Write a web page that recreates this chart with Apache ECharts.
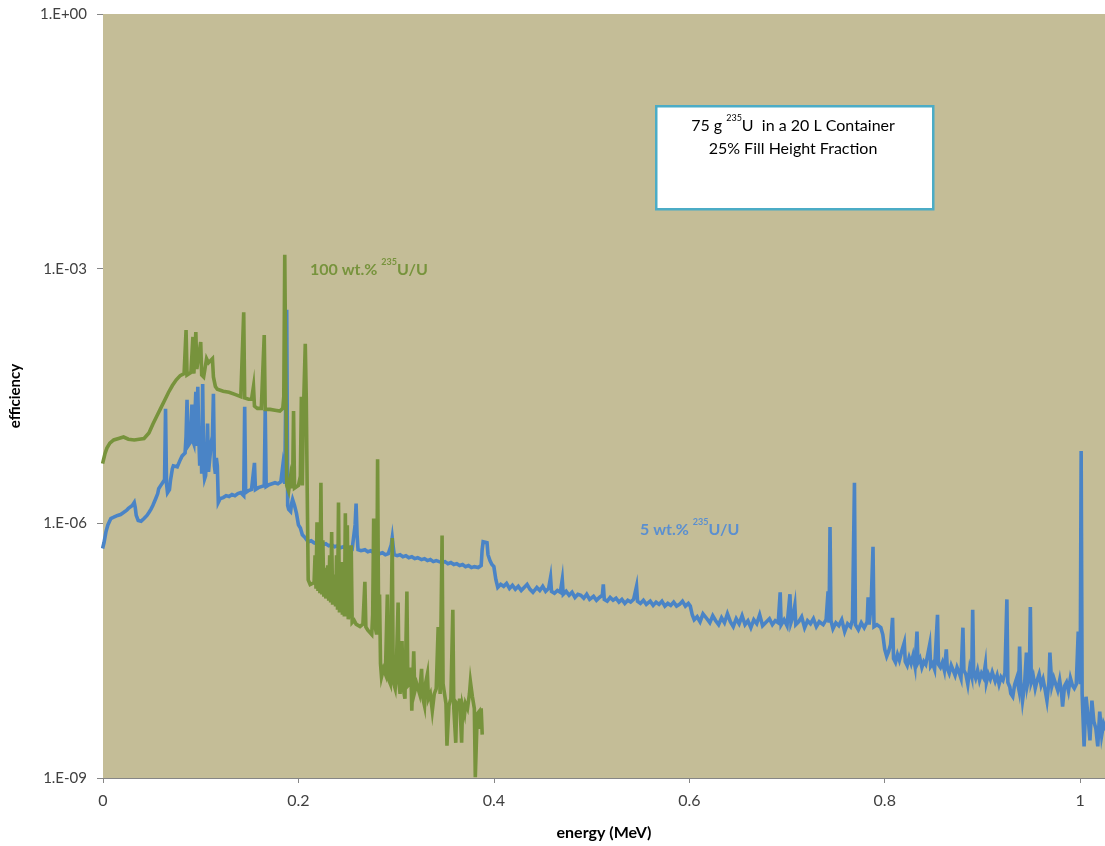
<!DOCTYPE html>
<html>
<head>
<meta charset="utf-8">
<script src="https://cdn.jsdelivr.net/npm/echarts@6/dist/echarts.min.js"></script>
<style>
  html, body { margin: 0; padding: 0; background: #ffffff; }
  #chart { width: 1105px; height: 846px; }
</style>
</head>
<body>
<div id="chart"></div>
<script>
// Detection efficiency vs. gamma energy, 75 g U-235 in a 20 L container

// 100 wt.% 235U/U : energy (MeV)
const greenEnergy = [
  0.000,0.002,0.004,0.007,0.011,0.016,0.021,0.026,0.032,0.037,
  0.042,0.047,0.051,0.055,0.059,0.063,0.067,0.071,0.075,0.079,
  0.083,0.085,0.086,0.090,0.092,0.093,0.095,0.096,0.098,0.100,
  0.101,0.103,0.106,0.108,0.110,0.112,0.113,0.115,0.117,0.123,
  0.129,0.135,0.141,0.143,0.144,0.145,0.149,0.152,0.154,0.155,
  0.158,0.162,0.165,0.166,0.171,0.176,0.181,0.184,0.185,0.186,
  0.188,0.190,0.192,0.194,0.195,0.196,0.198,0.200,0.202,0.203,
  0.204,0.205,0.207,0.208,0.209,0.210,0.212,0.214,0.216,0.217,
  0.218,0.219,0.220,0.221,0.222,0.223,0.224,0.225,0.226,0.227,
  0.228,0.230,0.231,0.232,0.233,0.234,0.235,0.237,0.238,0.239,
  0.240,0.241,0.242,0.244,0.245,0.246,0.247,0.248,0.249,0.250,
  0.251,0.253,0.254,0.255,0.257,0.259,0.261,0.263,0.266,0.268,
  0.269,0.271,0.273,0.275,0.276,0.277,0.278,0.280,0.281,0.282,
  0.283,0.284,0.285,0.287,0.289,0.291,0.292,0.294,0.296,0.297,
  0.299,0.300,0.302,0.303,0.304,0.306,0.307,0.309,0.311,0.312,
  0.314,0.315,0.316,0.318,0.319,0.321,0.324,0.326,0.327,0.329,
  0.330,0.332,0.333,0.335,0.337,0.339,0.341,0.343,0.345,0.347,
  0.348,0.349,0.351,0.352,0.354,0.356,0.358,0.359,0.361,0.362,
  0.364,0.365,0.367,0.368,0.370,0.371,0.373,0.375,0.376,0.378,
  0.380,0.381,0.383,0.385,0.386,0.387,0.388
];
// 100 wt.% 235U/U : efficiency
const greenEff = [
  5.3e-6,6.6e-6,7.7e-6,8.8e-6,9.6e-6,1.0e-5,1.04e-5,9.8e-6,9.6e-6,9.8e-6,
  1.0e-5,1.16e-5,1.47e-5,1.83e-5,2.26e-5,2.8e-5,3.48e-5,4.2e-5,4.9e-5,5.5e-5,
  5.8e-5,1.89e-4,5.6e-5,6.0e-5,1.57e-4,5.8e-5,1.79e-4,6.6e-5,6.3e-5,1.37e-4,
  5.6e-5,5.3e-5,8.7e-5,7.8e-5,7.4e-5,8.7e-5,5.3e-5,4.1e-5,3.8e-5,3.6e-5,
  3.5e-5,3.3e-5,3.1e-5,3.05e-5,3.07e-4,3.0e-5,2.9e-5,2.9e-5,4.1e-5,2.4e-5,
  2.26e-5,2.26e-5,1.65e-4,2.2e-5,2.2e-5,2.15e-5,2.1e-5,2.26e-5,3.1e-5,1.46e-3,
  2.8e-6,2.4e-6,3.6e-6,2.6e-6,2.1e-5,2.6e-6,2.5e-6,2.8e-6,3.6e-6,3.1e-5,
  2.8e-6,1.83e-5,1.3e-4,3.1e-5,2.3e-6,2.16e-7,1.9e-7,1.8e-7,2.0e-7,4.2e-7,
  1.7e-7,1.03e-6,1.6e-7,4.2e-7,1.5e-7,3.0e-6,1.45e-7,6.3e-7,1.37e-7,3.0e-7,
  1.3e-7,3.2e-7,1.23e-7,4.2e-7,1.17e-7,7.9e-7,1.1e-7,2.5e-7,1.05e-7,4.2e-7,
  9.6e-8,1.76e-6,8.9e-8,3.5e-7,8.4e-8,1.45e-7,8.0e-8,1.31e-6,8.0e-8,9.5e-7,
  7.4e-8,1.1e-7,5.5e-7,6.8e-8,7.2e-8,6.5e-8,6.8e-8,6.1e-8,6.5e-8,2.05e-7,
  6.0e-8,5.5e-8,5.8e-8,4.9e-8,8.4e-8,1.14e-6,6.5e-8,4.9e-8,5.7e-6,8.4e-8,
  1.45e-7,2.2e-8,1.55e-8,1.93e-8,1.68e-8,1.45e-7,1.47e-8,1.29e-8,6.7e-7,1.36e-8,
  1.13e-8,1.68e-8,1.17e-7,1.29e-8,9.8e-9,4.1e-8,1.19e-8,8.6e-9,1.57e-7,1.22e-8,
  1.29e-8,2.0e-8,6.2e-9,3.1e-8,1.04e-8,1.29e-8,9.8e-9,1.93e-8,9.1e-9,7.1e-9,
  1.29e-8,1.68e-8,8.6e-9,9.8e-9,6.2e-9,9.8e-9,1.13e-8,6.0e-8,9.8e-9,7.2e-7,
  1.29e-8,1.07e-8,7.5e-9,2.4e-9,7.1e-9,8.6e-9,9.6e-8,6.6e-9,2.6e-9,7.5e-9,
  6.9e-9,8.6e-9,2.6e-9,7.1e-9,5.7e-9,7.5e-9,6.6e-9,9.8e-9,1.36e-8,9.1e-9,
  6.6e-9,1.02e-9,5.7e-9,6.1e-9,3.8e-9,6.6e-9,3.4e-9
];

// 5 wt.% 235U/U : energy (MeV)
const blueEnergy = [
  0.000,0.001,0.003,0.005,0.008,0.011,0.015,0.018,0.021,0.024,
  0.026,0.030,0.032,0.033,0.034,0.036,0.037,0.039,0.042,0.045,
  0.047,0.049,0.051,0.054,0.056,0.057,0.059,0.061,0.063,0.064,
  0.065,0.066,0.068,0.069,0.071,0.072,0.074,0.076,0.077,0.079,
  0.081,0.083,0.084,0.085,0.086,0.087,0.089,0.090,0.091,0.092,
  0.093,0.094,0.095,0.096,0.097,0.098,0.099,0.100,0.101,0.102,
  0.103,0.104,0.105,0.106,0.107,0.108,0.110,0.111,0.112,0.113,
  0.114,0.115,0.116,0.117,0.118,0.120,0.123,0.126,0.129,0.132,
  0.135,0.138,0.141,0.143,0.144,0.145,0.146,0.149,0.152,0.154,
  0.155,0.156,0.159,0.162,0.165,0.166,0.167,0.170,0.173,0.176,
  0.179,0.182,0.184,0.185,0.186,0.188,0.189,0.190,0.192,0.193,
  0.194,0.196,0.198,0.200,0.202,0.204,0.207,0.210,0.213,0.216,
  0.219,0.222,0.225,0.228,0.231,0.234,0.237,0.240,0.243,0.246,
  0.249,0.252,0.255,0.257,0.258,0.259,0.260,0.261,0.264,0.268,
  0.271,0.274,0.277,0.280,0.283,0.286,0.289,0.292,0.294,0.295,
  0.296,0.297,0.298,0.301,0.304,0.307,0.310,0.313,0.316,0.319,
  0.322,0.326,0.329,0.332,0.335,0.338,0.341,0.344,0.347,0.350,
  0.353,0.356,0.359,0.362,0.365,0.368,0.371,0.374,0.377,0.380,
  0.384,0.387,0.388,0.389,0.391,0.393,0.394,0.396,0.398,0.400,
  0.402,0.404,0.407,0.410,0.413,0.416,0.419,0.422,0.425,0.428,
  0.431,0.434,0.437,0.440,0.444,0.447,0.450,0.453,0.456,0.458,
  0.459,0.462,0.465,0.468,0.470,0.471,0.474,0.477,0.480,0.483,
  0.486,0.489,0.492,0.495,0.498,0.502,0.505,0.508,0.511,0.512,
  0.513,0.516,0.519,0.522,0.525,0.528,0.531,0.534,0.537,0.540,
  0.543,0.546,0.547,0.550,0.553,0.556,0.560,0.563,0.566,0.569,
  0.572,0.575,0.578,0.581,0.584,0.587,0.590,0.593,0.596,0.599,
  0.601,0.603,0.605,0.608,0.611,0.614,0.618,0.621,0.624,0.627,
  0.630,0.633,0.636,0.639,0.642,0.645,0.648,0.651,0.654,0.657,
  0.660,0.663,0.666,0.669,0.672,0.675,0.679,0.682,0.685,0.688,
  0.691,0.693,0.694,0.697,0.700,0.703,0.704,0.706,0.708,0.709,
  0.712,0.715,0.718,0.721,0.724,0.727,0.730,0.733,0.737,0.740,
  0.742,0.743,0.744,0.745,0.747,0.750,0.753,0.756,0.759,0.762,
  0.765,0.767,0.769,0.770,0.773,0.776,0.779,0.782,0.783,0.784,
  0.786,0.788,0.789,0.792,0.796,0.798,0.800,0.802,0.804,0.806,
  0.808,0.809,0.811,0.813,0.815,0.817,0.820,0.821,0.823,0.825,
  0.827,0.829,0.831,0.833,0.834,0.836,0.838,0.840,0.842,0.844,
  0.846,0.847,0.849,0.851,0.854,0.855,0.857,0.859,0.861,0.863,
  0.864,0.866,0.868,0.870,0.872,0.874,0.876,0.878,0.880,0.881,
  0.883,0.885,0.887,0.889,0.890,0.891,0.893,0.895,0.897,0.899,
  0.901,0.903,0.904,0.906,0.908,0.910,0.913,0.915,0.917,0.919,
  0.921,0.923,0.925,0.926,0.928,0.929,0.931,0.933,0.935,0.937,
  0.938,0.939,0.941,0.943,0.945,0.946,0.948,0.949,0.950,0.952,
  0.954,0.956,0.958,0.960,0.962,0.964,0.966,0.968,0.969,0.971,
  0.973,0.975,0.977,0.979,0.981,0.982,0.984,0.986,0.988,0.990,
  0.992,0.994,0.996,0.998,1.000,1.001,1.002,1.004,1.006,1.008,
  1.010,1.012,1.014,1.016,1.018,1.020,1.022,1.024,1.026
];
// 5 wt.% 235U/U : efficiency
const blueEff = [
  5.30e-7,5.90e-7,7.93e-7,9.58e-7,1.14e-6,1.18e-6,1.24e-6,1.27e-6,1.34e-6,1.42e-6,
  1.50e-6,1.62e-6,1.76e-6,1.54e-6,1.24e-6,1.08e-6,1.03e-6,1.06e-6,1.14e-6,1.24e-6,
  1.34e-6,1.46e-6,1.62e-6,1.96e-6,2.24e-6,2.56e-6,2.78e-6,3.01e-6,3.27e-6,2.24e-5,
  2.93e-6,2.30e-6,2.50e-6,3.18e-6,4.39e-6,4.76e-6,5.02e-6,4.63e-6,4.76e-6,5.59e-6,
  6.23e-6,6.57e-6,6.75e-6,1.06e-5,2.85e-5,8.15e-6,8.83e-6,1.38e-5,2.50e-5,9.32e-6,
  8.60e-6,1.81e-5,3.54e-5,8.15e-6,4.05e-5,1.06e-5,4.76e-6,1.38e-5,3.84e-6,4.39e-5,
  4.76e-6,3.35e-6,3.64e-6,6.23e-6,1.50e-5,4.05e-6,3.94e-6,9.32e-6,1.06e-5,3.35e-5,
  4.76e-6,3.84e-6,5.90e-6,4.76e-6,1.76e-6,1.96e-6,2.01e-6,2.12e-6,2.07e-6,2.18e-6,
  2.12e-6,2.24e-6,2.30e-6,2.36e-6,2.12e-6,2.36e-5,2.30e-6,2.43e-6,2.50e-6,2.56e-6,
  5.16e-6,2.50e-6,2.63e-6,2.71e-6,2.78e-6,2.18e-5,2.71e-6,2.85e-6,2.93e-6,3.01e-6,
  2.93e-6,3.09e-6,4.76e-6,3.84e-6,2.93e-6,3.27e-4,1.62e-6,1.46e-6,1.38e-6,1.71e-6,
  1.91e-6,1.62e-6,1.31e-6,9.58e-7,8.83e-7,7.32e-7,6.75e-7,6.06e-7,6.23e-7,5.90e-7,
  5.74e-7,6.06e-7,5.59e-7,5.74e-7,5.44e-7,5.59e-7,5.30e-7,5.44e-7,5.16e-7,5.30e-7,
  5.02e-7,5.16e-7,5.02e-7,5.16e-7,9.58e-7,1.71e-6,7.32e-7,4.89e-7,4.76e-7,4.89e-7,
  4.63e-7,4.76e-7,4.51e-7,4.63e-7,4.39e-7,4.51e-7,4.27e-7,4.39e-7,4.51e-7,5.59e-7,
  6.75e-7,5.30e-7,4.27e-7,4.16e-7,4.27e-7,4.05e-7,4.16e-7,3.94e-7,4.05e-7,3.84e-7,
  3.94e-7,3.74e-7,3.84e-7,3.64e-7,3.74e-7,3.54e-7,3.64e-7,3.54e-7,3.45e-7,3.54e-7,
  3.35e-7,3.45e-7,3.27e-7,3.35e-7,3.18e-7,3.27e-7,3.09e-7,3.18e-7,3.01e-7,3.09e-7,
  3.01e-7,3.18e-7,4.89e-7,6.06e-7,5.74e-7,5.90e-7,4.27e-7,3.64e-7,3.27e-7,3.09e-7,
  2.18e-7,1.76e-7,1.91e-7,1.81e-7,1.96e-7,1.71e-7,1.86e-7,1.67e-7,1.81e-7,1.62e-7,
  1.76e-7,1.91e-7,1.67e-7,1.54e-7,1.76e-7,1.62e-7,1.81e-7,1.58e-7,1.71e-7,2.30e-7,
  1.58e-7,1.50e-7,1.62e-7,1.54e-7,2.18e-7,1.46e-7,1.58e-7,1.42e-7,1.54e-7,1.34e-7,
  1.46e-7,1.42e-7,1.31e-7,1.46e-7,1.27e-7,1.38e-7,1.24e-7,1.34e-7,1.42e-7,1.91e-7,
  1.27e-7,1.21e-7,1.34e-7,1.24e-7,1.31e-7,1.18e-7,1.27e-7,1.14e-7,1.24e-7,1.18e-7,
  1.27e-7,1.81e-7,1.21e-7,1.14e-7,1.24e-7,1.11e-7,1.21e-7,1.08e-7,1.18e-7,1.11e-7,
  1.21e-7,1.06e-7,1.14e-7,1.08e-7,1.18e-7,1.06e-7,1.11e-7,1.21e-7,1.06e-7,1.14e-7,
  1.06e-7,8.37e-8,7.32e-8,7.93e-8,6.93e-8,8.60e-8,7.52e-8,6.75e-8,8.15e-8,7.12e-8,
  6.40e-8,7.72e-8,6.75e-8,8.60e-8,6.93e-8,6.06e-8,7.52e-8,6.57e-8,8.15e-8,6.40e-8,
  7.12e-8,5.90e-8,7.32e-8,6.57e-8,8.37e-8,6.23e-8,6.93e-8,7.52e-8,6.40e-8,7.12e-8,
  6.75e-8,1.54e-7,6.40e-8,7.32e-8,6.23e-8,1.46e-7,6.75e-8,7.93e-8,1.08e-7,6.40e-8,
  6.93e-8,7.93e-8,5.90e-8,7.12e-8,6.57e-8,7.52e-8,6.06e-8,6.93e-8,6.40e-8,7.32e-8,
  1.58e-7,6.75e-8,9.07e-7,7.12e-8,5.74e-8,6.75e-8,6.23e-8,7.32e-8,5.30e-8,6.57e-8,
  6.06e-8,7.32e-8,3.01e-6,6.40e-8,5.59e-8,6.75e-8,5.90e-8,6.93e-8,1.34e-7,6.40e-8,
  1.06e-7,5.30e-7,6.06e-8,6.40e-8,5.90e-8,4.89e-8,3.27e-8,2.71e-8,3.09e-8,3.74e-8,
  7.72e-8,2.56e-8,2.30e-8,2.85e-8,2.43e-8,3.01e-8,3.94e-8,2.36e-8,2.12e-8,2.63e-8,
  2.24e-8,2.78e-8,2.07e-8,5.30e-8,2.30e-8,2.56e-8,2.01e-8,2.36e-8,2.18e-8,2.85e-8,
  3.74e-8,2.07e-8,2.24e-8,1.91e-8,8.37e-8,2.18e-8,2.01e-8,2.30e-8,1.86e-8,3.27e-8,
  1.96e-8,1.71e-8,2.12e-8,1.86e-8,1.62e-8,2.01e-8,1.76e-8,1.50e-8,5.90e-8,1.86e-8,
  1.67e-8,1.27e-8,1.96e-8,1.58e-8,9.58e-8,1.76e-8,1.50e-8,1.86e-8,1.42e-8,1.71e-8,
  1.54e-8,2.18e-8,1.34e-8,1.67e-8,1.46e-8,1.76e-8,1.38e-8,1.62e-8,1.27e-8,1.54e-8,
  1.42e-8,1.71e-8,1.27e-7,1.34e-8,1.18e-8,9.84e-9,9.07e-9,1.27e-8,1.50e-8,1.14e-8,
  3.54e-8,1.42e-8,8.15e-9,1.21e-8,3.01e-8,1.27e-8,1.67e-8,1.03e-7,1.34e-8,1.58e-8,
  1.14e-8,1.42e-8,1.67e-8,1.24e-8,1.46e-8,1.11e-8,8.15e-9,1.34e-8,3.01e-8,1.21e-8,
  1.50e-8,1.27e-8,1.08e-8,1.42e-8,9.84e-9,6.93e-9,1.21e-8,1.34e-8,1.06e-8,1.50e-8,
  1.24e-8,1.14e-8,1.27e-8,5.30e-8,1.27e-8,7.12e-6,9.84e-9,2.36e-9,9.07e-9,5.44e-9,
  2.78e-9,8.15e-9,4.63e-9,3.84e-9,2.36e-9,6.06e-9,3.18e-9,4.39e-9,3.84e-9
];

// Axis setup
const xMin = 0, xMax = 1.0254, xStep = 0.2;
const yMin = 1e-9, yMax = 1, yDecadeStep = 3;

const FONT = 'Lato, "Open Sans", "Liberation Sans", sans-serif';
const GREEN = '#77933C';
const BLUE = '#4A84C6';
const BLUE_TEXT = '#5A8FD0';

function pairs(xs, ys) { return xs.map((x, i) => [x, ys[i]]); }

function sciLabel(v) {
  const e = Math.round(Math.log10(v));
  const sign = e < 0 ? '-' : '+';
  const a = Math.abs(e);
  return '1.E' + sign + (a < 10 ? '0' + a : String(a));
}

// rich-text label with a small raised "235"
function isotopeText(x, y, text, size, color, bold, align) {
  return {
    type: 'text', x: x, y: y, z: 21,
    style: {
      text: text,
      align: align, verticalAlign: 'top',
      rich: {
        m: { fontFamily: FONT, fontSize: size, fontWeight: bold ? 'bold' : 'normal', fill: color, lineHeight: Math.round(size * 1.5) },
        s: { fontFamily: FONT, fontSize: Math.round(size * 0.58), fontWeight: bold ? 'bold' : 'normal', fill: color, lineHeight: Math.round(size * 1.25), verticalAlign: 'top' }
      }
    }
  };
}

const chart = echarts.init(document.getElementById('chart'), null, { renderer: 'canvas' });

chart.setOption({
  animation: false,
  backgroundColor: '#ffffff',
  textStyle: { fontFamily: FONT },
  grid: {
    left: 97, top: 14, right: 0, bottom: 61,
    show: true, backgroundColor: '#C4BD97', borderWidth: 0
  },
  xAxis: {
    type: 'value',
    min: xMin, max: xMax, interval: xStep,
    name: 'energy (MeV)',
    nameLocation: 'middle',
    nameGap: 47,
    nameTextStyle: { fontFamily: FONT, fontSize: 16, fontWeight: 'bold', color: '#000' },
    axisLine: { show: true, lineStyle: { color: '#868686', width: 1 } },
    axisTick: { show: true, inside: false, length: 5, lineStyle: { color: '#868686' } },
    axisLabel: {
      margin: 15, fontSize: 16, color: '#404040', fontFamily: FONT,
      showMaxLabel: false,
      formatter: v => (Math.abs(v - Math.round(v)) < 1e-9 ? String(Math.round(v)) : v.toFixed(1))
    },
    splitLine: { show: false }
  },
  yAxis: {
    type: 'log', logBase: 10,
    min: yMin, max: yMax, interval: yDecadeStep,
    name: 'efficiency',
    nameLocation: 'middle',
    nameGap: 80,
    nameRotate: 90,
    nameTextStyle: { fontFamily: FONT, fontSize: 15, fontWeight: 'bold', color: '#000' },
    axisLine: { show: false },
    axisTick: { show: true, inside: false, length: 6, lineStyle: { color: '#868686' } },
    axisLabel: { margin: 16, fontSize: 15, color: '#404040', fontFamily: FONT, formatter: sciLabel },
    splitLine: { show: false },
    minorTick: { show: false }
  },
  series: [
    {
      name: '5 wt.% 235U/U',
      type: 'line',
      data: pairs(blueEnergy, blueEff),
      showSymbol: false,
      lineStyle: { color: BLUE, width: 3.6, join: 'miter', cap: 'square' },
      itemStyle: { color: BLUE },
      z: 2
    },
    {
      name: '100 wt.% 235U/U',
      type: 'line',
      data: pairs(greenEnergy, greenEff),
      showSymbol: false,
      lineStyle: { color: GREEN, width: 3.6, join: 'miter', cap: 'square' },
      itemStyle: { color: GREEN },
      z: 3
    }
  ],
  graphic: [
    {
      type: 'rect', left: 655, top: 105, z: 20,
      shape: { width: 277, height: 103 },
      style: { fill: '#ffffff', stroke: '#4BACC6', lineWidth: 2.5 }
    },
    {
      type: 'text', x: 793, y: 114, z: 21,
      style: {
        text: '{m|75 g }{s|235}{m|U  in a 20 L Container}\n{m|25% Fill Height Fraction}',
        align: 'center', verticalAlign: 'top',
        rich: {
          m: { fontFamily: FONT, fontSize: 16, fill: '#000', lineHeight: 23 },
          s: { fontFamily: FONT, fontSize: 9, fill: '#000', lineHeight: 19, verticalAlign: 'top' }
        }
      }
    },
    isotopeText(310, 258, '{m|100 wt.% }{s|235}{m|U/U}', 16, GREEN, true, 'left'),
    isotopeText(640, 518, '{m|5 wt.% }{s|235}{m|U/U}', 16, BLUE_TEXT, true, 'left')
  ]
});
</script>
</body>
</html>
